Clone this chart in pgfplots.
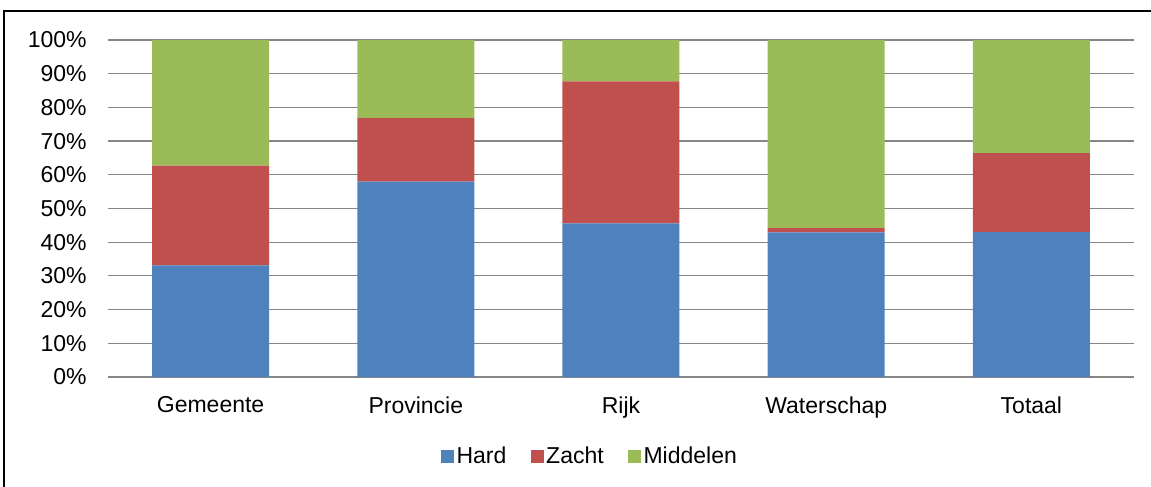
\documentclass[border=0pt]{standalone}
\usepackage{pgfplots}
\pgfplotsset{compat=1.18}
\usepackage{fontspec}
\setmainfont{Liberation Sans}

\definecolor{hard}{HTML}{4F81BD}
\definecolor{zacht}{HTML}{C0504D}
\definecolor{middel}{HTML}{9BBB59}
\definecolor{gridc}{HTML}{868686}

\begin{document}
\begin{tikzpicture}
% image frame: 1151x487 px at 0.5pt per px, origin at the axis' lower left corner
\useasboundingbox (-54pt,-55pt) rectangle (521.5pt,188.5pt);
\draw[line width=0.9pt] (-52pt,-60pt) -- (-52pt,183pt) -- (530pt,183pt);
\begin{axis}[
    at={(0pt,0pt)}, anchor=south west,
    scale only axis,
    width=513pt, height=168.5pt,
    ybar stacked,
    bar width=58.5pt,
    xmin=-0.5, xmax=4.5,
    ymin=0, ymax=100,
    xtick=data,
    xticklabels={Gemeente,Provincie,Rijk,Waterschap,Totaal},
    ytick={0,10,...,100},
    yticklabels={0\%,10\%,20\%,30\%,40\%,50\%,60\%,70\%,80\%,90\%,100\%},
    major tick length=0pt,
    ymajorgrids,
    grid style={gridc, line width=0.6pt},
    axis line style={draw=none},
    axis x line*=bottom,
    axis y line*=left,
    x axis line style={draw=gridc, line width=0.6pt},
    every tick label/.append style={font=\fontsize{11.5}{13}\selectfont, inner sep=0pt},
    xticklabel style={yshift=-9.5pt},
    yticklabel style={xshift=-10.5pt},
    legend style={draw=none, at={(0.470,-0.237)}, anchor=center,
        legend columns=-1, font=\fontsize{11.5}{13}\selectfont,
        /tikz/every even column/.append style={column sep=11pt},
        nodes={inner sep=1.2pt}},
    legend image code/.code={\fill[#1] (0pt,-3.25pt) rectangle (6.5pt,3.25pt);},
]
\addplot[fill=hard, draw=none] coordinates {(0,33.1) (1,58.0) (2,45.6) (3,42.9) (4,43.0)};
\addplot[fill=zacht, draw=none] coordinates {(0,29.6) (1,18.8) (2,42.1) (3,1.3) (4,23.4)};
\addplot[fill=middel, draw=none] coordinates {(0,37.3) (1,23.2) (2,12.3) (3,55.8) (4,33.6)};
\legend{Hard,Zacht,Middelen}
\end{axis}
\end{tikzpicture}
\end{document}
